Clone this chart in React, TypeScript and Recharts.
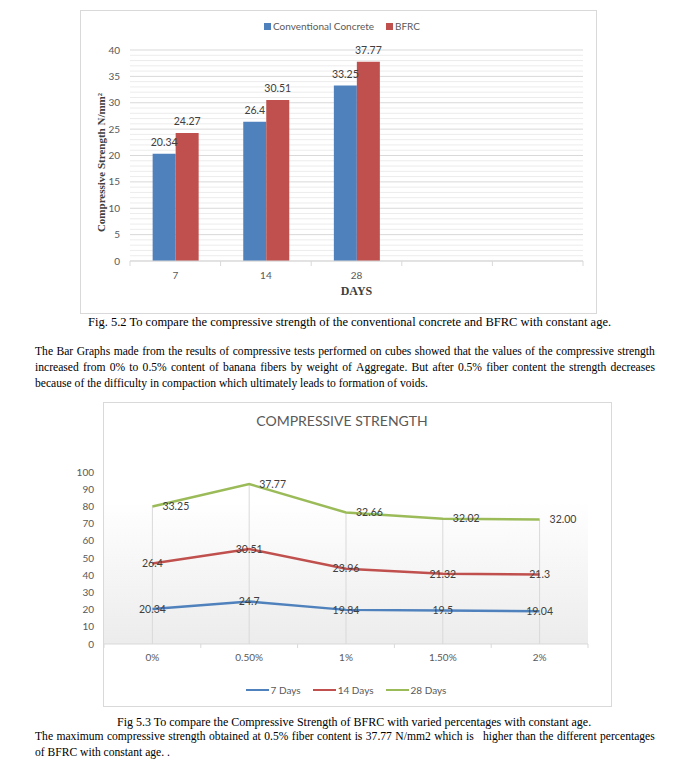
import React from 'react';
import {
  BarChart, Bar, XAxis, YAxis, CartesianGrid, LabelList, ReferenceLine, ReferenceArea,
  LineChart, Line, Label,
} from 'recharts';

// ---------- Fig 5.2 data ----------
const ageDays = ['7', '14', '28', ' ', '  '];
const conventionalConcrete = [20.34, 26.4, 33.25, null, null];
const bfrcStrength = [24.27, 30.51, 37.77, null, null];
const barSeriesNames = ['Conventional Concrete', 'BFRC'];
const barColors = ['#4f81bd', '#c0504d'];
const barTicks = [0, 5, 10, 15, 20, 25, 30, 35, 40];
const barMinorTicks = [1, 2, 3, 4, 6, 7, 8, 9, 11, 12, 13, 14, 16, 17, 18, 19, 21, 22, 23, 24, 26, 27, 28, 29, 31, 32, 33, 34, 36, 37, 38, 39];

// ---------- Fig 5.3 data ----------
const fiberContents = ['0%', '0.50%', '1%', '1.50%', '2%'];
const strength7Days = [20.34, 24.7, 19.84, 19.5, 19.04];
const strength14Days = [26.4, 30.51, 23.96, 21.32, 21.3];
const strength28Days = [33.25, 37.77, 32.66, 32.02, 32.0];
const lineSeriesNames = ['7 Days', '14 Days', '28 Days'];
const lineColors = ['#4f81bd', '#c0504d', '#9bbb59'];
const lineTicks = [0, 10, 20, 30, 40, 50, 60, 70, 80, 90, 100];

const barData = ageDays.map((d, i) => ({ day: d, cc: conventionalConcrete[i], bfrc: bfrcStrength[i] }));
const lineData = fiberContents.map((p, i) => ({
  pct: p,
  r7: strength7Days[i],
  r14: strength14Days[i],
  r28: strength28Days[i].toFixed(2),
  s7: strength7Days[i],
  s14: strength7Days[i] + strength14Days[i],
  s28: strength7Days[i] + strength14Days[i] + strength28Days[i],
}));

const SANS = 'Lato, "Open Sans", sans-serif';
const SERIF = '"Liberation Serif", "Times New Roman", serif';
const AXIS_TEXT = '#595959';
const LABEL_TEXT = '#404040';

const BoundaryTick = (props: any) => {
  const { x, y, payload, index, count, tickLen, labelDy, fontSize } = props;
  const half = payload && payload.offset ? payload.offset : 0;
  return (
    <g>
      <line x1={x - half} x2={x - half} y1={y} y2={y + tickLen} stroke="#d9d9d9" />
      {index === count - 1 && (
        <line x1={x + half} x2={x + half} y1={y} y2={y + tickLen} stroke="#d9d9d9" />
      )}
      <text x={x} y={y + labelDy} textAnchor="middle" dominantBaseline="central"
        fill={AXIS_TEXT} fontSize={fontSize} fontFamily={SANS}>
        {payload ? payload.value : ''}
      </text>
    </g>
  );
};

const lineStyle: React.CSSProperties = { position: 'absolute', left: 35, width: 620, fontSize: 11.6, lineHeight: '16px', whiteSpace: 'nowrap' };

const JustifiedLine = ({ text, top }: { text: string; top: number }) => (
  <div style={{ ...lineStyle, top, display: 'flex', justifyContent: 'space-between' }}>
    {text.split(' ').map((w, i) => <span key={i}>{w.replace(/_/g, '\u00a0')}</span>)}
  </div>
);

export default function App() {
  return (
    <div style={{ position: 'absolute', left: 0, top: 0, width: 686, height: 765, background: '#fff', fontFamily: SERIF, color: '#000', overflow: 'hidden' }}>
      {/* ---------------- Chart 1 ---------------- */}
      <div style={{ position: 'absolute', left: 80, top: 10, width: 517, height: 304, border: '1px solid #d9d9d9', boxSizing: 'border-box' }} />
      <div style={{ position: 'absolute', left: 80, top: 10 }}>
        <BarChart width={516} height={303} data={barData} margin={{ top: 40, right: 13, left: 0, bottom: 0 }}
          barCategoryGap="25%" barGap={0}>
          <CartesianGrid vertical={false} stroke="#ececec" horizontalValues={barMinorTicks} />
          <CartesianGrid vertical={false} stroke="#d9d9d9" />
          <XAxis dataKey="day" interval={0} tickSize={0} tickMargin={0} axisLine={{ stroke: '#d9d9d9' }} tickLine={false} height={52}
            tick={(p: any) => <BoundaryTick {...p} count={ageDays.length} tickLen={5} labelDy={14} fontSize={10} />}>
            <Label content={({ viewBox }: any) => (
              <text x={viewBox.x + viewBox.width / 2} y={viewBox.y + 30} textAnchor="middle" dominantBaseline="central"
                fontFamily={SERIF} fontWeight="bold" fontSize={12} fill="#404040">DAYS</text>
            )} />
          </XAxis>
          <YAxis width={50} domain={[0, 40]} ticks={barTicks} interval={0} axisLine={false} tickLine={false} tickSize={0} tickMargin={10}
            tick={{ fill: AXIS_TEXT, fontSize: 10, fontFamily: SANS }}>
            <Label content={({ viewBox }: any) => (
              <text transform={`translate(${viewBox.x + 21}, ${viewBox.y + viewBox.height / 2 + 7}) rotate(-90)`}
                textAnchor="middle" dominantBaseline="central" fontFamily={SERIF} fontWeight="bold" fontSize={11} fill="#404040">
                Compressive Strength N/mm²
              </text>
            )} />
          </YAxis>
          <Bar dataKey="cc" name={barSeriesNames[0]} fill={barColors[0]} isAnimationActive={false}>
            <LabelList dataKey="cc" position="top" offset={8} fill={LABEL_TEXT} fontSize={10.5} fontFamily={SANS} />
          </Bar>
          <Bar dataKey="bfrc" name={barSeriesNames[1]} fill={barColors[1]} isAnimationActive={false}>
            <LabelList dataKey="bfrc" position="top" offset={8} fill={LABEL_TEXT} fontSize={10.5} fontFamily={SANS} />
          </Bar>
        </BarChart>
      </div>
      <div style={{ position: 'absolute', left: 84, top: 19, width: 516, height: 14, display: 'flex', justifyContent: 'center', alignItems: 'center', fontFamily: SANS, fontSize: 10, color: AXIS_TEXT }}>
        {barSeriesNames.map((n, i) => (
          <div key={n} style={{ display: 'flex', alignItems: 'center', marginRight: i === 0 ? 12 : 0 }}>
            <span style={{ display: 'inline-block', width: 7, height: 7, background: barColors[i], marginRight: 2 }} />
            <span>{n}</span>
          </div>
        ))}
      </div>

      <div style={{ ...lineStyle, left: 88, top: 314, fontSize: 12.5 }}>
        Fig. 5.2 To compare the compressive strength of the conventional concrete and BFRC with constant age.
      </div>

      <JustifiedLine top={344} text="The Bar Graphs made from the results of compressive tests performed on cubes showed that the values of the compressive strength" />
      <JustifiedLine top={360} text="increased from 0% to 0.5% content of banana fibers by weight of Aggregate. But after 0.5% fiber content the strength decreases" />
      <div style={{ ...lineStyle, top: 376 }}>because of the difficulty in compaction which ultimately leads to formation of voids.</div>

      {/* ---------------- Chart 2 ---------------- */}
      <div style={{ position: 'absolute', left: 103, top: 402, width: 509, height: 305, border: '1px solid #d9d9d9', boxSizing: 'border-box' }} />
      <div style={{ position: 'absolute', left: 60, top: 402 }}>
        <LineChart width={551} height={304} data={lineData} margin={{ top: 70, right: 23, left: 0, bottom: 0 }}>
          <defs>
            <linearGradient id="wallGrad" x1="0" y1="0" x2="0" y2="1">
              <stop offset="0%" stopColor="#ffffff" />
              <stop offset="100%" stopColor="#ececec" />
            </linearGradient>
          </defs>
          <ReferenceArea y1={0} y2={83.5} fill="url(#wallGrad)" fillOpacity={1} stroke="none" />
          {lineData.map((d) => (
            <ReferenceLine key={d.pct} segment={[{ x: d.pct, y: 0 }, { x: d.pct, y: d.s28 }]} stroke="#d9d9d9" strokeWidth={1} />
          ))}
          <XAxis dataKey="pct" scale="band" interval={0} tickSize={0} tickMargin={0} axisLine={{ stroke: '#d9d9d9' }} tickLine={false} height={62}
            tick={(p: any) => <BoundaryTick {...p} count={fiberContents.length} tickLen={4} labelDy={13} fontSize={10} />} />
          <YAxis width={44} domain={[0, 100]} ticks={lineTicks} interval={0} axisLine={false} tickLine={false} tickSize={0} tickMargin={10}
            tick={{ fill: AXIS_TEXT, fontSize: 10, fontFamily: SANS }} />
          <Line dataKey="s7" name={lineSeriesNames[0]} stroke={lineColors[0]} strokeWidth={2.5} dot={false} isAnimationActive={false}>
            <LabelList dataKey="r7" position="center" fill={LABEL_TEXT} fontSize={10.5} fontFamily={SANS} />
          </Line>
          <Line dataKey="s14" name={lineSeriesNames[1]} stroke={lineColors[1]} strokeWidth={2.5} dot={false} isAnimationActive={false}>
            <LabelList dataKey="r14" position="center" fill={LABEL_TEXT} fontSize={10.5} fontFamily={SANS} />
          </Line>
          <Line dataKey="s28" name={lineSeriesNames[2]} stroke={lineColors[2]} strokeWidth={2.5} dot={false} isAnimationActive={false}>
            <LabelList dataKey="r28" position="right" offset={10} fill={LABEL_TEXT} fontSize={10.5} fontFamily={SANS} />
          </Line>
        </LineChart>
      </div>
      <div style={{ position: 'absolute', left: 100, top: 413, width: 484, textAlign: 'center', fontFamily: SANS, fontSize: 14, color: AXIS_TEXT, lineHeight: '16px' }}>
        COMPRESSIVE STRENGTH
      </div>
      <div style={{ position: 'absolute', left: 104, top: 683, width: 484, height: 14, display: 'flex', justifyContent: 'center', alignItems: 'center', fontFamily: SANS, fontSize: 10, color: AXIS_TEXT }}>
        {lineSeriesNames.map((n, i) => (
          <div key={n} style={{ display: 'flex', alignItems: 'center', marginRight: i < lineSeriesNames.length - 1 ? 12 : 0 }}>
            <span style={{ display: 'inline-block', width: 23, height: 2.5, background: lineColors[i], marginRight: 2 }} />
            <span>{n}</span>
          </div>
        ))}
      </div>

      <div style={{ ...lineStyle, left: 117, top: 714, fontSize: 12 }}>
        Fig 5.3 To compare the Compressive Strength of BFRC with varied percentages with constant age.
      </div>
      <JustifiedLine top={729} text="The maximum compressive strength obtained at 0.5% fiber content is 37.77 N/mm2 which is__ higher than the different percentages" />
      <div style={{ ...lineStyle, top: 745 }}>of BFRC with constant age. .</div>
    </div>
  );
}
